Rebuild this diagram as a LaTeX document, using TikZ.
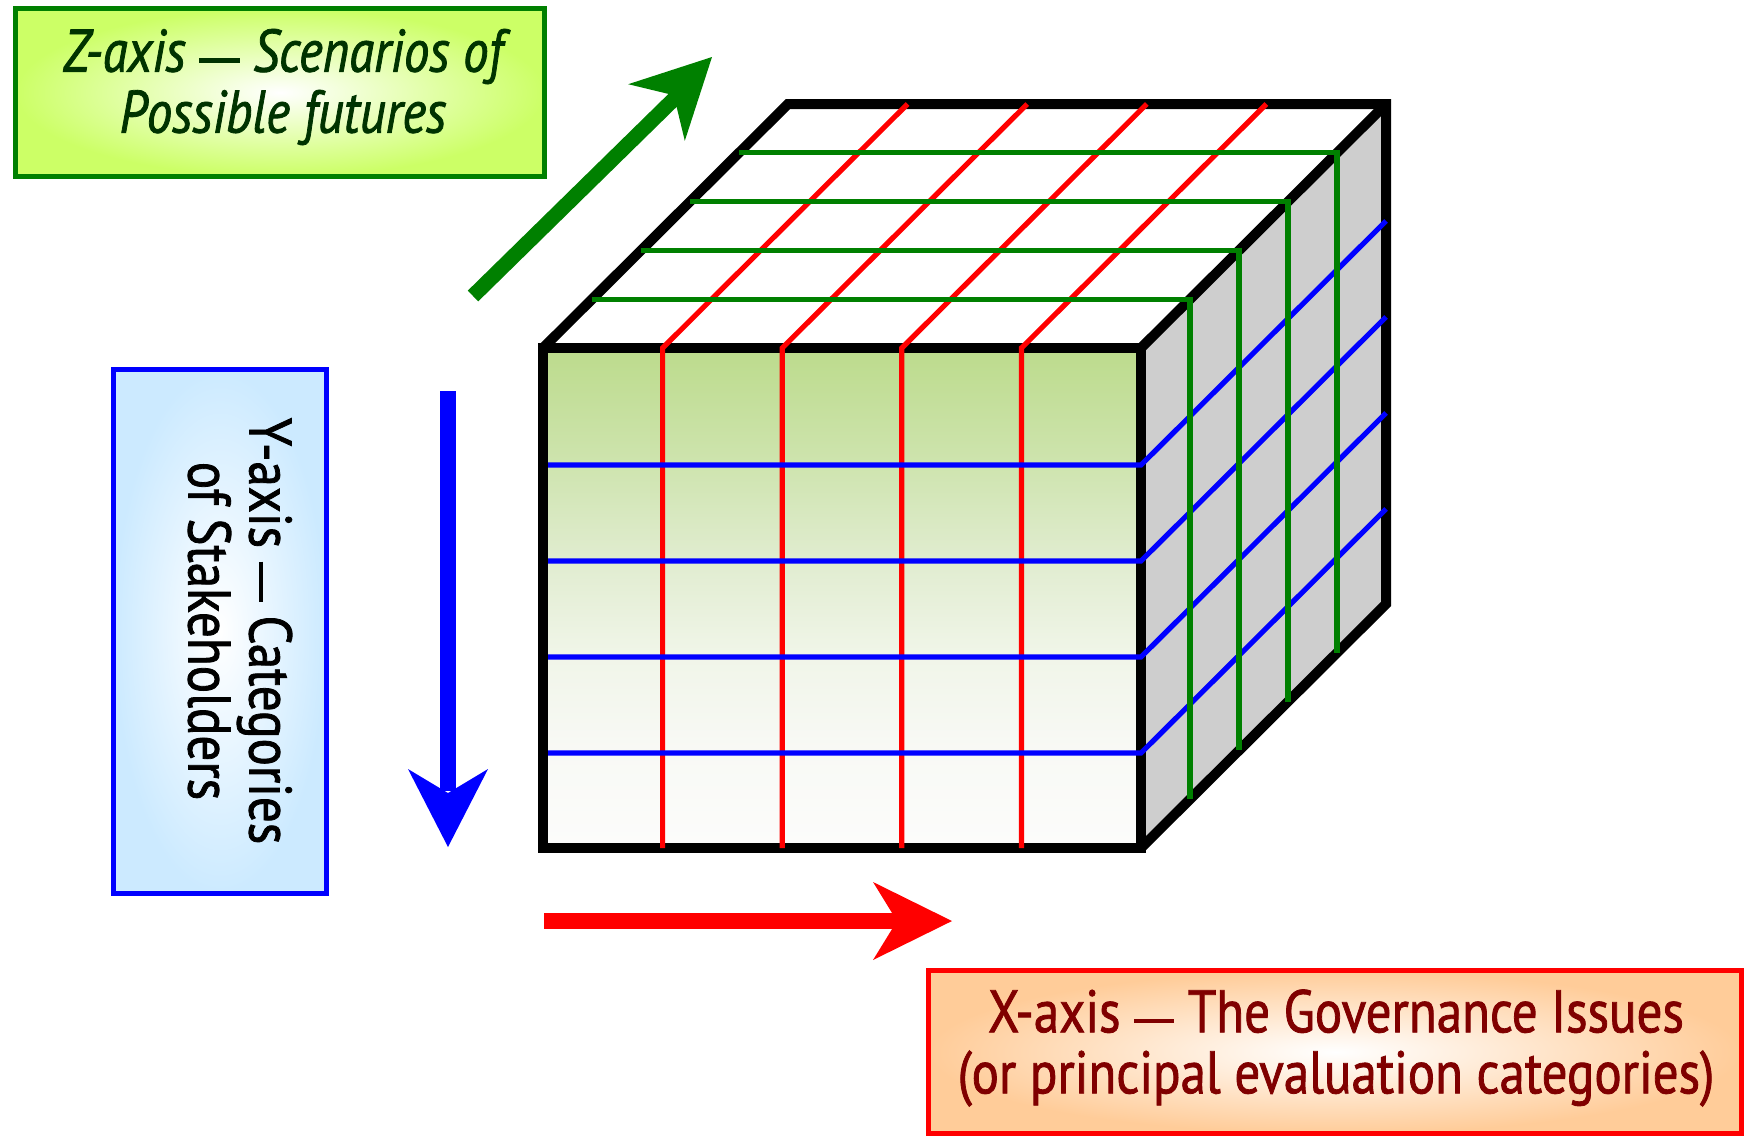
\documentclass[tikz,border=0pt]{standalone}
\usepackage{fontspec}
\newfontfamily\labelfont[FakeStretch=0.85,FakeBold=1.3]{PT Sans}
\usetikzlibrary{calc}

% long dash used in the captions
\newcommand\capdash{\rule[0.15em]{0.67em}{0.07em}}

\definecolor{zgreen}{RGB}{0,128,0}
\definecolor{zfill}{RGB}{204,255,102}
\definecolor{ztext}{RGB}{0,51,0}
\definecolor{yblue}{RGB}{0,0,255}
\definecolor{yfill}{RGB}{204,234,255}
\definecolor{xred}{RGB}{255,0,0}
\definecolor{xfill}{RGB}{255,204,153}
\definecolor{xtext}{RGB}{128,0,0}
\definecolor{sideface}{RGB}{206,206,206}

% front face: green at the top, fading to near white at the bottom
\pgfdeclareverticalshading{frontfade}{100bp}{%
  color(0bp)=(rgb,255:red,252;green,252;blue,251);
  color(25bp)=(rgb,255:red,252;green,252;blue,251);
  color(35bp)=(rgb,255:red,248;green,249;blue,245);
  color(44.5bp)=(rgb,255:red,240;green,245;blue,232);
  color(54bp)=(rgb,255:red,224;green,236;blue,207);
  color(63.5bp)=(rgb,255:red,206;green,228;blue,174);
  color(75bp)=(rgb,255:red,188;green,219;blue,140);
  color(100bp)=(rgb,255:red,188;green,219;blue,140)}

\begin{document}
\begin{tikzpicture}[x=0.5pt,y=-0.5pt,
  zbox/.style={draw=zgreen, line width=2.75pt, inner color=white, outer color=zfill,
    minimum width=264.5pt, minimum height=84pt, inner sep=0pt},
  ybox/.style={draw=yblue, line width=2.5pt, inner color=white, outer color=yfill,
    minimum width=106.5pt, minimum height=262pt, inner sep=0pt},
  xbox/.style={draw=xred, line width=2.75pt, inner color=white, outer color=xfill,
    minimum width=406.5pt, minimum height=81.5pt, inner sep=0pt},
  caption/.style={font=\labelfont\fontsize{30pt}{30.5pt}\selectfont, align=center, inner sep=0pt},
  cubeedge/.style={line width=5pt, line join=miter, black},
  xgrid/.style={line width=2.6pt, xred},
  ygrid/.style={line width=2.6pt, yblue},
  zgrid/.style={line width=2.6pt, zgreen},
  shaft/.style={line width=#1},
]
\useasboundingbox (0,0) rectangle (1744,1136);

% ---------- axis labels ----------
\node[zbox] (zbox) at (280,92.5) {};
\node[caption, text=ztext, font=\labelfont\itshape\fontsize{30pt}{30.5pt}\selectfont]
  (ztxt) at (283,87) {Z-axis \capdash{} Scenarios of\\Possible futures};

\node[ybox] (ybox) at (220,631.5) {};
\node[caption, text=black, rotate=-90] (ytxt) at (240,631) {Y-axis \capdash{} Categories\\of Stakeholders};

\node[xbox] (xbox) at (1335,1052) {};
\node[caption, text=xtext] (xtxt) at (1336,1048) {X-axis \capdash{} The Governance Issues\\(or principal evaluation categories)};

% ---------- cube corners ----------
\coordinate (A) at (543,348);
\coordinate (B) at (1141,348);
\coordinate (C) at (1141,848);
\coordinate (D) at (543,848);
\coordinate (Ab) at (788,104);
\coordinate (Bb) at (1386,104);
\coordinate (Cb) at (1386,604);

% faces
\shade[shading=frontfade] (A) rectangle (C);
\fill[white] (A) -- (Ab) -- (Bb) -- (B) -- cycle;
\fill[sideface] (B) -- (Bb) -- (Cb) -- (C) -- cycle;

% outline
\draw[cubeedge] (A) -- (B) -- (C) -- (D) -- cycle;
\draw[cubeedge] (A) -- (Ab) -- (Bb) -- (Cb) -- (C);
\draw[cubeedge] (B) -- (Bb);

% X grid: verticals on the front, running back over the top
\foreach \i in {1,2,3,4} {
  \pgfmathsetmacro{\gx}{543+119.6*\i}
  \draw[xgrid] (\gx,848) -- (\gx,348) -- (\gx+245,104);
}
% Y grid: horizontals on the front, running back over the side
\foreach \gy in {465,561,657,753} {
  \draw[ygrid] (548,\gy) -- (1141,\gy) -- (1386,\gy-244);
}
% Z grid: across the top, then down the side
\foreach \k in {1,2,3,4} {
  \pgfmathsetmacro{\dx}{49*\k}
  \pgfmathsetmacro{\dy}{48.8*\k}
  \draw[zgrid] (543+\dx,348-\dy) -- (1141+\dx,348-\dy) -- (1141+\dx,848-\dy);
}

% ---------- axis arrows ----------
% Z arrow
\coordinate (ztail) at (473,296);
\coordinate (ztip) at (712,57);
\coordinate (znotch) at (673.8,95.2);
\draw[zgreen, shaft=7.5pt] (ztail) -- ($(znotch)+(2,2)$);
\fill[zgreen] (ztip) -- (684.8,140.8) -- (znotch) -- (628.2,84.2) -- cycle;

% Y arrow
\coordinate (ytail) at (448,391);
\coordinate (ytip) at (448,847);
\coordinate (ynotch) at (448,793);
\draw[yblue, shaft=8pt] (ytail) -- ($(ynotch)+(0,-2)$);
\fill[yblue] (ytip) -- (488,769) -- (ynotch) -- (408,769) -- cycle;

% X arrow
\coordinate (xtail) at (544,921);
\coordinate (xtip) at (952,921);
\coordinate (xnotch) at (897,921);
\draw[xred, shaft=8pt] (xtail) -- ($(xnotch)+(2,0)$);
\fill[xred] (xtip) -- (873,960) -- (xnotch) -- (873,882) -- cycle;
\end{tikzpicture}
\end{document}
